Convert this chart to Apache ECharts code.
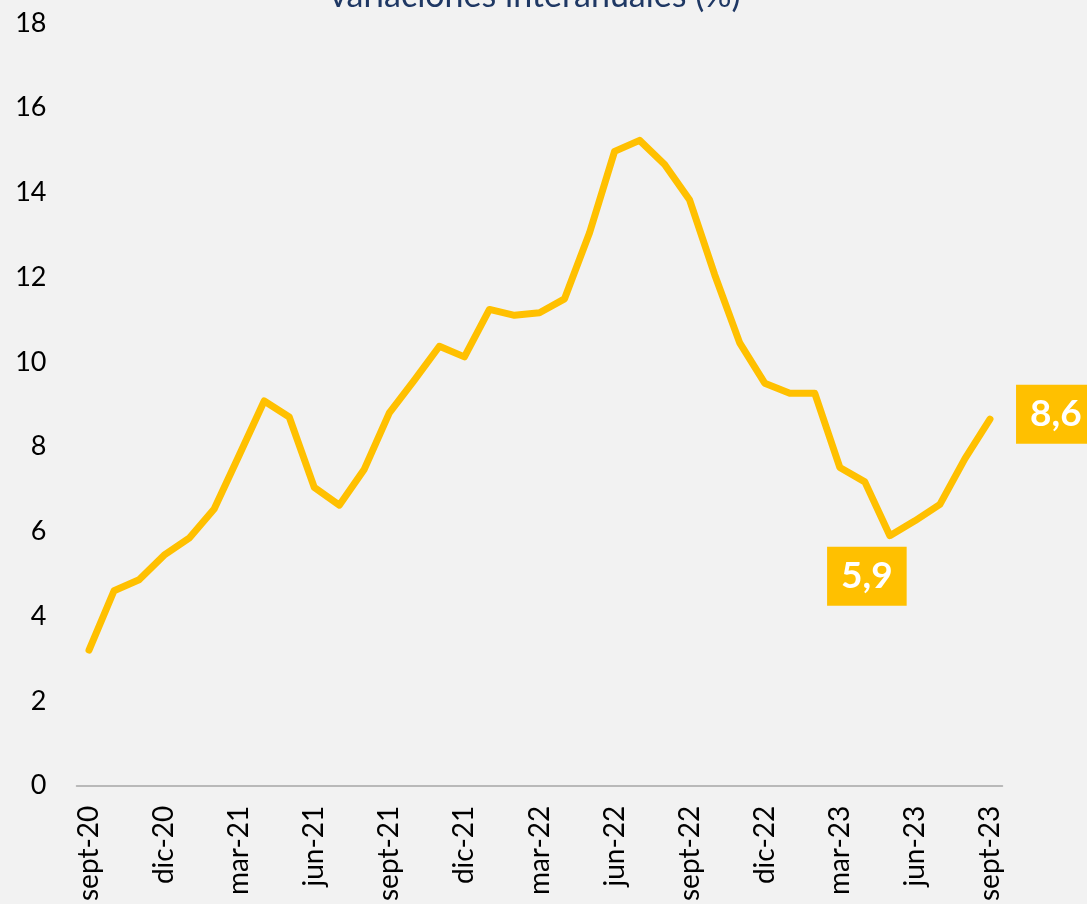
<!DOCTYPE html>
<html>
<head>
<meta charset="utf-8">
<script src="https://cdn.jsdelivr.net/npm/echarts@6/dist/echarts.min.js"></script>
<style>
  html, body { margin: 0; padding: 0; background: #f2f2f2; }
  #chart { width: 1087px; height: 904px; }
</style>
</head>
<body>
<div id="chart"></div>
<script>
// meses (sept-20 .. sept-23)
const months = [
  'sept-20', 'oct-20', 'nov-20', 'dic-20',
  'ene-21', 'feb-21', 'mar-21', 'abr-21', 'may-21', 'jun-21', 'jul-21', 'ago-21', 'sept-21', 'oct-21', 'nov-21', 'dic-21',
  'ene-22', 'feb-22', 'mar-22', 'abr-22', 'may-22', 'jun-22', 'jul-22', 'ago-22', 'sept-22', 'oct-22', 'nov-22', 'dic-22',
  'ene-23', 'feb-23', 'mar-23', 'abr-23', 'may-23', 'jun-23', 'jul-23', 'ago-23', 'sept-23'
];
// variaciones interanuales (%)
const values = [
  3.2, 4.6, 4.86, 5.44,
  5.84, 6.53, 7.8, 9.08, 8.7, 7.04, 6.62, 7.47, 8.8, 9.57, 10.37, 10.12,
  11.24, 11.1, 11.16, 11.49, 13.05, 14.97, 15.23, 14.66, 13.82, 12.06, 10.45, 9.5,
  9.26, 9.26, 7.51, 7.17, 5.9, 6.25, 6.64, 7.72, 8.65
];
const yTicks = [0, 2, 4, 6, 8, 10, 12, 14, 16, 18];
const labelled = { 32: '5,9', 36: '8,6' };

let chart = echarts.init(document.getElementById('chart'));

const boxLabel = {
  show: true,
  color: '#ffffff',
  fontFamily: 'Lato',
  fontWeight: 'bold',
  fontSize: 37,
  backgroundColor: '#ffc000',
  lineHeight: 37,
  padding: [11, 14, 11, 14]
};

let seriesData = values.map((v, i) => {
  if (i === 32) {
    return {
      value: v,
      label: Object.assign({}, boxLabel, {
        formatter: labelled[i],
        position: 'bottom',
        distance: 11,
        offset: [-23, 0]
      })
    };
  }
  if (i === 36) {
    return {
      value: v,
      label: Object.assign({}, boxLabel, {
        formatter: labelled[i],
        position: 'right',
        distance: 26,
        offset: [0, -5]
      })
    };
  }
  return { value: v, label: { show: false } };
});

chart.setOption({
  backgroundColor: '#f2f2f2',
  animation: false,
  title: {
    text: 'variaciones interanuales (%)',
    left: 530,
    top: -26,
    textAlign: 'center',
    textStyle: {
      color: '#1f3864',
      fontFamily: 'Lato',
      fontWeight: 'normal',
      fontSize: 34
    }
  },
  grid: {
    left: 76.5,
    right: 84.5,
    top: 23,
    bottom: 117,
    containLabel: false
  },
  xAxis: {
    type: 'category',
    data: months,
    boundaryGap: true,
    axisLine: { lineStyle: { color: '#a6a6a6', width: 1.5 } },
    axisTick: { interval: 2, length: 8, lineStyle: { color: '#a6a6a6', width: 1.5 } },
    axisLabel: {
      interval: 2,
      rotate: 90,
      margin: 20,
      color: '#000000',
      fontFamily: 'Lato',
      fontSize: 28
    },
    splitLine: { show: false }
  },
  yAxis: {
    type: 'value',
    min: yTicks[0],
    max: yTicks[yTicks.length - 1],
    interval: 2,
    axisLine: { show: false },
    axisTick: { show: false },
    splitLine: { show: false },
    axisLabel: {
      margin: 30,
      color: '#000000',
      fontFamily: 'Lato',
      fontSize: 27
    }
  },
  series: [{
    name: 'variaciones interanuales (%)',
    type: 'line',
    data: seriesData,
    symbol: 'circle',
    symbolSize: 0.1,
    showSymbol: true,
    showAllSymbol: true,
    label: { show: false },
    lineStyle: { color: '#ffc000', width: 7, cap: 'round', join: 'round' },
    itemStyle: { color: '#ffc000' }
  }]
});
</script>
</body>
</html>
